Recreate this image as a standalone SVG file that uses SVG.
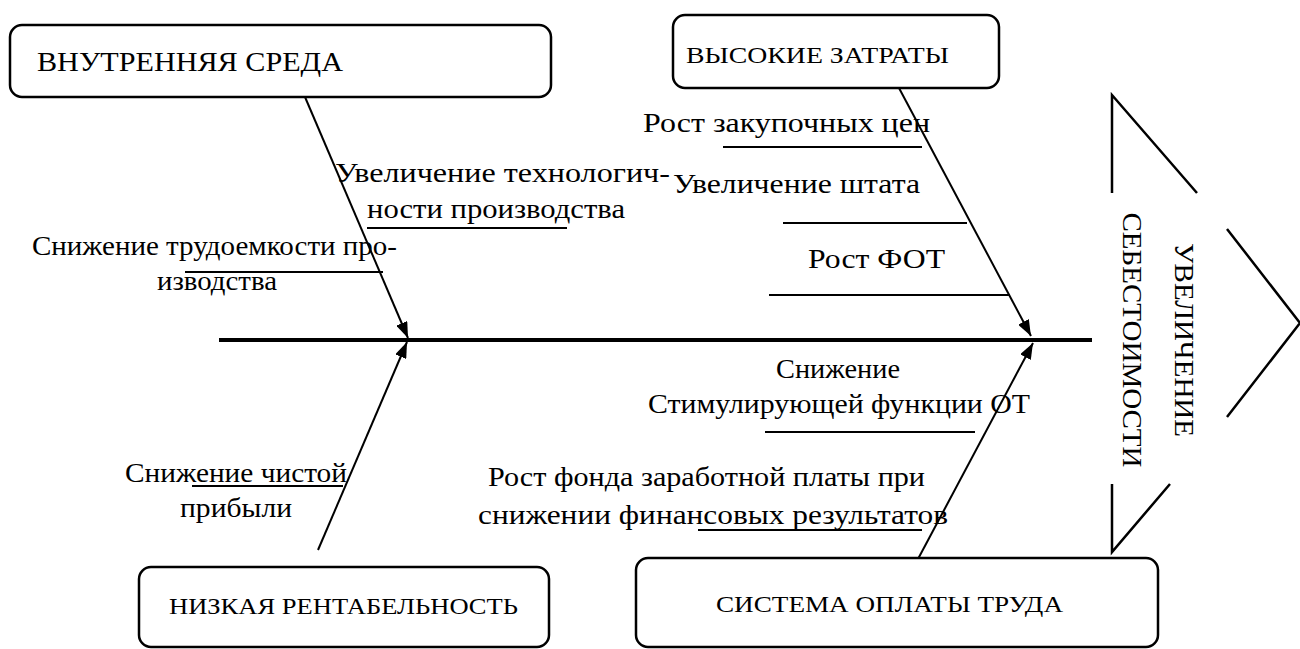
<svg xmlns="http://www.w3.org/2000/svg" width="1300" height="649" viewBox="0 0 1300 649">
<style>
.box{fill:#fff;stroke:#000;stroke-width:2.5}
.t{font-family:"Liberation Serif","Times New Roman",serif;font-size:27px;fill:#000}
.bt{font-family:"Liberation Serif","Times New Roman",serif;font-size:24px;fill:#000}
.vt{font-family:"Liberation Serif","Times New Roman",serif;font-size:27px;fill:#000}
.bone{stroke:#000;stroke-width:2;fill:none}
.sub{stroke:#000;stroke-width:2;fill:none}
.chev{fill:none;stroke:#000;stroke-width:2.5}
</style>
<defs>
<marker id="ah" viewBox="0 0 16 12" refX="16" refY="6" markerWidth="16" markerHeight="12" markerUnits="userSpaceOnUse" orient="auto">
<path d="M0,0 L16,6 L0,12 Z" fill="#000"/>
</marker>
</defs>
<rect width="1300" height="649" fill="#fff"/>
<g id="connectors">
<line x1="219" y1="340" x2="1092" y2="340" stroke="#000" stroke-width="4"/>
<line class="bone" x1="305" y1="97" x2="408" y2="338" marker-end="url(#ah)"/>
<line class="bone" x1="899" y1="88" x2="1031" y2="336" marker-end="url(#ah)"/>
<line class="bone" x1="318" y1="550" x2="407" y2="342" marker-end="url(#ah)"/>
<line class="bone" x1="918" y1="559" x2="1033" y2="343" marker-end="url(#ah)"/>
<line class="sub" x1="367" y1="228" x2="567" y2="228"/>
<line class="sub" x1="185" y1="272" x2="383" y2="272"/>
<line class="sub" x1="723" y1="147" x2="922" y2="147"/>
<line class="sub" x1="783" y1="223" x2="967" y2="223"/>
<line class="sub" x1="769" y1="295" x2="1010" y2="295"/>
<line class="sub" x1="192" y1="486" x2="343" y2="486"/>
<line class="sub" x1="765" y1="432" x2="975" y2="432"/>
<line class="sub" x1="698" y1="530" x2="922" y2="530"/>
</g>
<g id="node-internal">
<rect class="box" x="10" y="25" width="541" height="72" rx="12"/>
<text class="t" x="37" y="71" textLength="306" lengthAdjust="spacingAndGlyphs">ВНУТРЕННЯЯ СРЕДА</text>
</g>
<g id="node-costs">
<rect class="box" x="673" y="15" width="326" height="73" rx="12"/>
<text class="bt" x="686" y="63" textLength="263" lengthAdjust="spacingAndGlyphs">ВЫСОКИЕ ЗАТРАТЫ</text>
</g>
<g id="node-profit">
<rect class="box" x="139" y="567" width="410" height="80" rx="12"/>
<text class="bt" x="169" y="614" textLength="349" lengthAdjust="spacingAndGlyphs">НИЗКАЯ РЕНТАБЕЛЬНОСТЬ</text>
</g>
<g id="node-pay">
<rect class="box" x="636" y="558" width="522" height="89" rx="12"/>
<text class="bt" x="716" y="612" textLength="347" lengthAdjust="spacingAndGlyphs">СИСТЕМА ОПЛАТЫ ТРУДА</text>
</g>
<g id="node-result">
<path class="chev" d="M1112,193 L1112,95 L1197,193"/>
<path class="chev" d="M1227,229 L1300,323 L1227,417"/>
<path class="chev" d="M1112,484 L1112,552 L1170,484"/>
<text class="vt" transform="translate(1175,340) rotate(90)" text-anchor="middle" textLength="194" lengthAdjust="spacingAndGlyphs">УВЕЛИЧЕНИЕ</text>
<text class="vt" transform="translate(1123,340) rotate(90)" text-anchor="middle" textLength="255" lengthAdjust="spacingAndGlyphs">СЕБЕСТОИМОСТИ</text>
</g>
<g id="labels">
<text class="t" x="335" y="182" textLength="335" lengthAdjust="spacingAndGlyphs">Увеличение технологич-</text>
<text class="t" x="367" y="218" textLength="258" lengthAdjust="spacingAndGlyphs">ности производства</text>
<text class="t" x="32" y="255" textLength="365" lengthAdjust="spacingAndGlyphs">Снижение трудоемкости про-</text>
<text class="t" x="157" y="290" textLength="120" lengthAdjust="spacingAndGlyphs">изводства</text>
<text class="t" x="643" y="132" textLength="287" lengthAdjust="spacingAndGlyphs">Рост закупочных цен</text>
<text class="t" x="673" y="193" textLength="247" lengthAdjust="spacingAndGlyphs">Увеличение штата</text>
<text class="t" x="808" y="268" textLength="137" lengthAdjust="spacingAndGlyphs">Рост ФОТ</text>
<text class="t" x="776" y="378" textLength="124" lengthAdjust="spacingAndGlyphs">Снижение</text>
<text class="t" x="648" y="413" textLength="382" lengthAdjust="spacingAndGlyphs">Стимулирующей функции ОТ</text>
<text class="t" x="488" y="486" textLength="437" lengthAdjust="spacingAndGlyphs">Рост фонда заработной платы при</text>
<text class="t" x="478" y="524" textLength="470" lengthAdjust="spacingAndGlyphs">снижении финансовых результатов</text>
<text class="t" x="125" y="482" textLength="222" lengthAdjust="spacingAndGlyphs">Снижение чистой</text>
<text class="t" x="180" y="517" textLength="112" lengthAdjust="spacingAndGlyphs">прибыли</text>
</g>
</svg>
